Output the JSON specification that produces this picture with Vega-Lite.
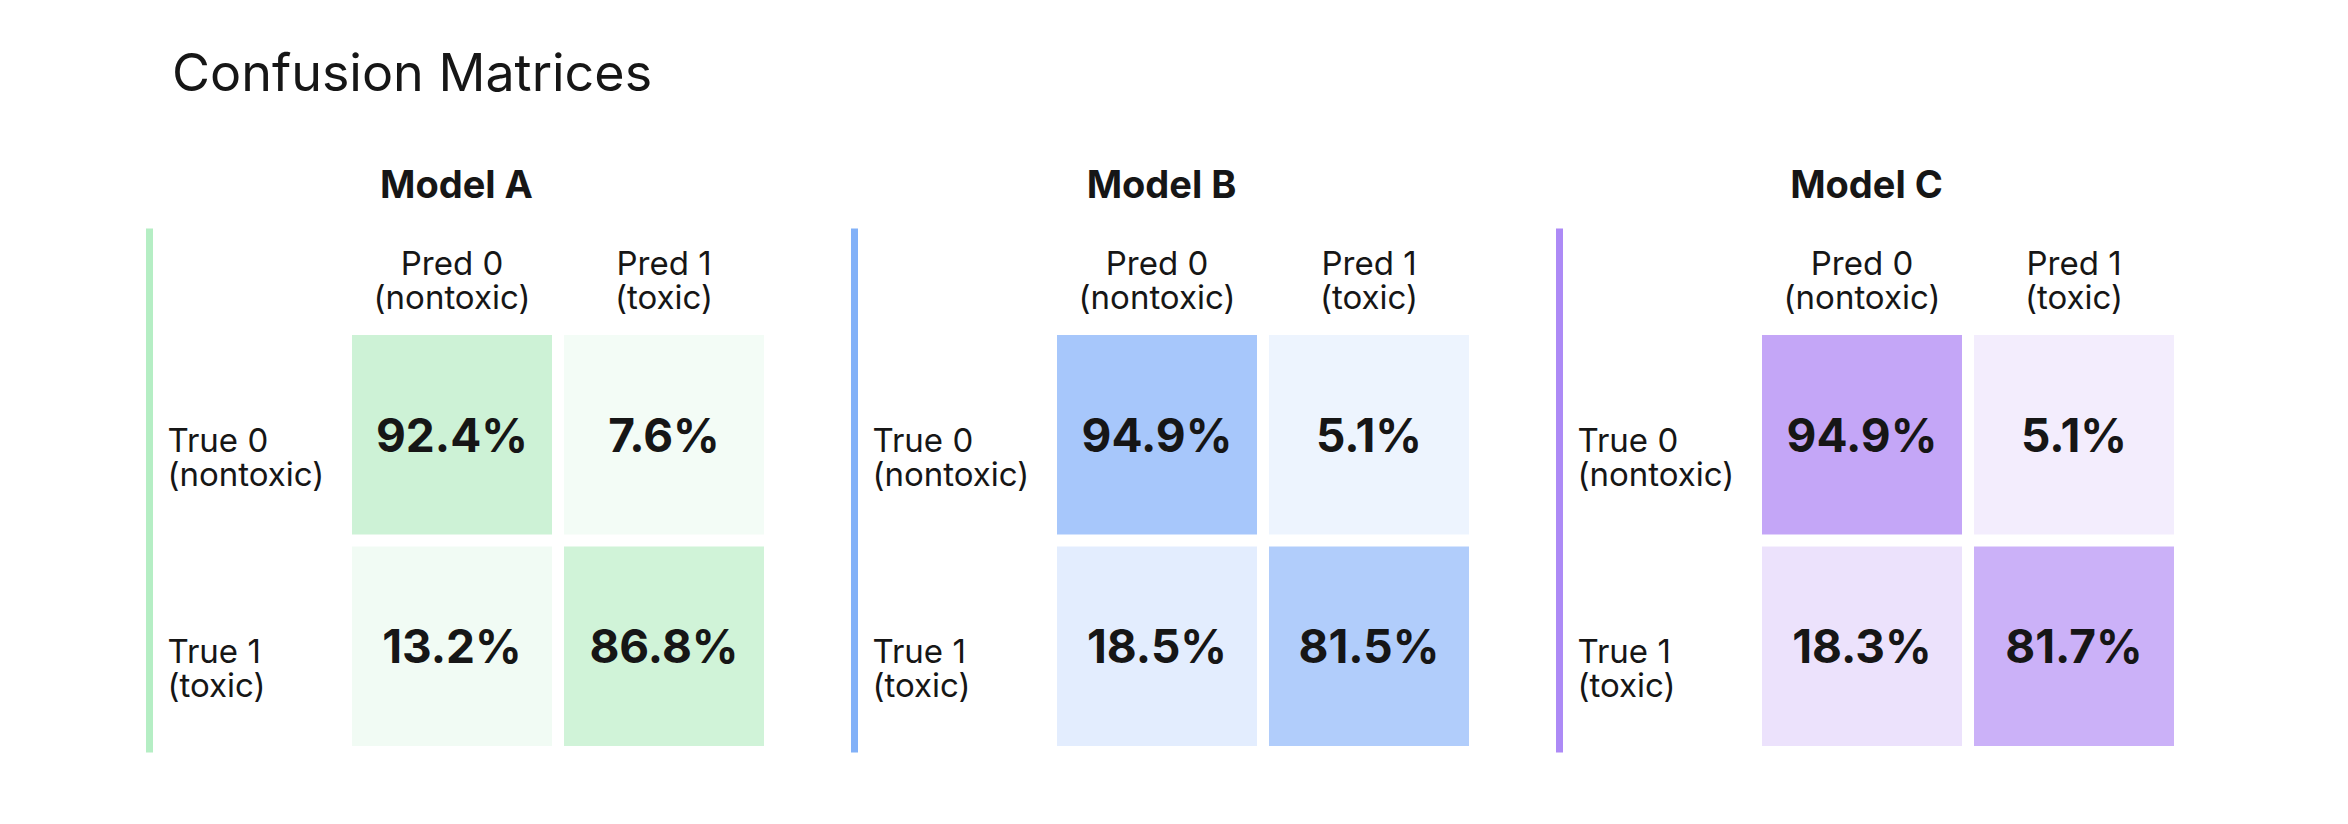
{
  "$schema": "https://vega.github.io/schema/vega-lite/v6.json",
  "background": "white",
  "padding": {"left": 149, "top": 49, "right": 10, "bottom": 10},
  "title": {"text": "Confusion Matrices", "anchor": "start", "fontSize": 52, "font": "Inter", "fontWeight": "normal", "color": "#161616", "dx": 23, "offset": 66},
  "datasets": {
    "cm": [
      {"model": "Model A", "truth": "True 0|(nontoxic)", "pred": "Pred 0|(nontoxic)", "value": 0.924},
      {"model": "Model A", "truth": "True 0|(nontoxic)", "pred": "Pred 1|(toxic)", "value": 0.076},
      {"model": "Model A", "truth": "True 1|(toxic)", "pred": "Pred 0|(nontoxic)", "value": 0.132},
      {"model": "Model A", "truth": "True 1|(toxic)", "pred": "Pred 1|(toxic)", "value": 0.868},
      {"model": "Model B", "truth": "True 0|(nontoxic)", "pred": "Pred 0|(nontoxic)", "value": 0.949},
      {"model": "Model B", "truth": "True 0|(nontoxic)", "pred": "Pred 1|(toxic)", "value": 0.051},
      {"model": "Model B", "truth": "True 1|(toxic)", "pred": "Pred 0|(nontoxic)", "value": 0.185},
      {"model": "Model B", "truth": "True 1|(toxic)", "pred": "Pred 1|(toxic)", "value": 0.815},
      {"model": "Model C", "truth": "True 0|(nontoxic)", "pred": "Pred 0|(nontoxic)", "value": 0.949},
      {"model": "Model C", "truth": "True 0|(nontoxic)", "pred": "Pred 1|(toxic)", "value": 0.051},
      {"model": "Model C", "truth": "True 1|(toxic)", "pred": "Pred 0|(nontoxic)", "value": 0.183},
      {"model": "Model C", "truth": "True 1|(toxic)", "pred": "Pred 1|(toxic)", "value": 0.817}
    ]
  },
  "spacing": 90,
  "config": {
    "view": {"stroke": null},
    "font": "Inter",
    "axis": {"labelFont": "Inter", "labelColor": "#161616", "labelFontSize": 33, "labelLineHeight": 34, "labelLimit": 0, "labelOverlap": false, "ticks": false, "tickSize": 0, "title": null, "grid": false},
    "title": {"font": "Inter", "color": "#161616"}
  },
  "hconcat": [
    {
      "title": {"text": "Model A", "fontSize": 38, "fontWeight": "bold", "anchor": "middle", "frame": "group", "baseline": "alphabetic", "offset": -8},
      "data": {"name": "cm"},
      "transform": [{"filter": "datum.model === 'Model A'"}],
      "width": 615, "height": 524,
      "encoding": {
        "x": {"field": "pred", "type": "nominal", "scale": {"domain": ["Pred 0|(nontoxic)", "Pred 1|(toxic)"], "paddingInner": 0.0566, "paddingOuter": 0.4788, "align": 1},
          "axis": {"orient": "top", "offset": -107, "domain": false, "labelAngle": 0, "labelExpr": "split(datum.label, '|')", "labelBaseline": "bottom", "labelPadding": 54}},
        "y": {"field": "truth", "type": "nominal", "scale": {"domain": ["True 0|(nontoxic)", "True 1|(toxic)"], "paddingInner": 0.0567, "paddingOuter": 0.267, "align": 0.947},
          "axis": {"orient": "left", "domainColor": "#b5eec4", "domainWidth": 7, "labelAlign": "left", "labelPadding": -18, "labelOffset": 7, "labelExpr": "split(datum.label, '|')"}}
      },
      "layer": [
        {"mark": {"type": "rect"},
         "encoding": {
           "color": {"field": "model", "type": "nominal", "scale": {"domain": ["Model A", "Model B", "Model C"], "range": ["#8de1a2", "#3b82f6", "#7c3aed"]}, "legend": null},
           "opacity": {"field": "value", "type": "quantitative", "scale": {"domain": [0, 1], "range": [0.07, 0.47]}, "legend": null}}},
        {"mark": {"type": "text", "fontSize": 46, "fontWeight": "bold", "color": "#161616", "font": "Inter", "dy": 3},
         "encoding": {"text": {"field": "value", "type": "quantitative", "format": ".1%"}}}
      ]
    },
    {
      "title": {"text": "Model B", "fontSize": 38, "fontWeight": "bold", "anchor": "middle", "frame": "group", "baseline": "alphabetic", "offset": -8},
      "data": {"name": "cm"},
      "transform": [{"filter": "datum.model === 'Model B'"}],
      "width": 615, "height": 524,
      "encoding": {
        "x": {"field": "pred", "type": "nominal", "scale": {"domain": ["Pred 0|(nontoxic)", "Pred 1|(toxic)"], "paddingInner": 0.0566, "paddingOuter": 0.4788, "align": 1},
          "axis": {"orient": "top", "offset": -107, "domain": false, "labelAngle": 0, "labelExpr": "split(datum.label, '|')", "labelBaseline": "bottom", "labelPadding": 54}},
        "y": {"field": "truth", "type": "nominal", "scale": {"domain": ["True 0|(nontoxic)", "True 1|(toxic)"], "paddingInner": 0.0567, "paddingOuter": 0.267, "align": 0.947},
          "axis": {"orient": "left", "domainColor": "#82b1f8", "domainWidth": 7, "labelAlign": "left", "labelPadding": -18, "labelOffset": 7, "labelExpr": "split(datum.label, '|')"}}
      },
      "layer": [
        {"mark": {"type": "rect"},
         "encoding": {
           "color": {"field": "model", "type": "nominal", "scale": {"domain": ["Model A", "Model B", "Model C"], "range": ["#8de1a2", "#3b82f6", "#7c3aed"]}, "legend": null},
           "opacity": {"field": "value", "type": "quantitative", "scale": {"domain": [0, 1], "range": [0.07, 0.47]}, "legend": null}}},
        {"mark": {"type": "text", "fontSize": 46, "fontWeight": "bold", "color": "#161616", "font": "Inter", "dy": 3},
         "encoding": {"text": {"field": "value", "type": "quantitative", "format": ".1%"}}}
      ]
    },
    {
      "title": {"text": "Model C", "fontSize": 38, "fontWeight": "bold", "anchor": "middle", "frame": "group", "baseline": "alphabetic", "offset": -8},
      "data": {"name": "cm"},
      "transform": [{"filter": "datum.model === 'Model C'"}],
      "width": 615, "height": 524,
      "encoding": {
        "x": {"field": "pred", "type": "nominal", "scale": {"domain": ["Pred 0|(nontoxic)", "Pred 1|(toxic)"], "paddingInner": 0.0566, "paddingOuter": 0.4788, "align": 1},
          "axis": {"orient": "top", "offset": -107, "domain": false, "labelAngle": 0, "labelExpr": "split(datum.label, '|')", "labelBaseline": "bottom", "labelPadding": 54}},
        "y": {"field": "truth", "type": "nominal", "scale": {"domain": ["True 0|(nontoxic)", "True 1|(toxic)"], "paddingInner": 0.0567, "paddingOuter": 0.267, "align": 0.947},
          "axis": {"orient": "left", "domainColor": "#ad8af6", "domainWidth": 7, "labelAlign": "left", "labelPadding": -18, "labelOffset": 7, "labelExpr": "split(datum.label, '|')"}}
      },
      "layer": [
        {"mark": {"type": "rect"},
         "encoding": {
           "color": {"field": "model", "type": "nominal", "scale": {"domain": ["Model A", "Model B", "Model C"], "range": ["#8de1a2", "#3b82f6", "#7c3aed"]}, "legend": null},
           "opacity": {"field": "value", "type": "quantitative", "scale": {"domain": [0, 1], "range": [0.07, 0.47]}, "legend": null}}},
        {"mark": {"type": "text", "fontSize": 46, "fontWeight": "bold", "color": "#161616", "font": "Inter", "dy": 3},
         "encoding": {"text": {"field": "value", "type": "quantitative", "format": ".1%"}}}
      ]
    }
  ]
}
